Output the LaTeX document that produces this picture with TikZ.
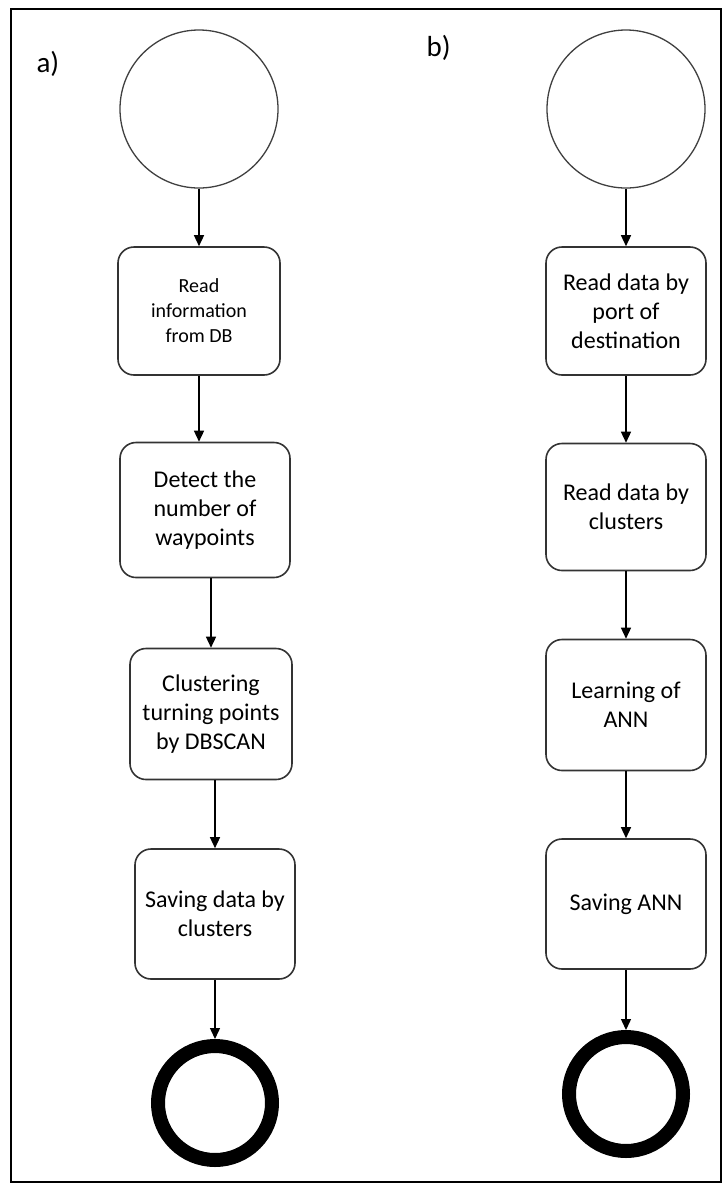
\documentclass[tikz,border=0pt]{standalone}
\usepackage{fontspec}
\setmainfont{Carlito}
\usetikzlibrary{arrows.meta}
\begin{document}
\begin{tikzpicture}[x=1pt,y=-1pt,
  stepbox/.style={draw=black!80, line width=1.6pt, rounded corners=16pt,
    align=center, inner sep=0pt, font=\fontsize{24}{29}\selectfont},
  smalltext/.style={font=\fontsize{20}{25}\selectfont},
  startnode/.style={circle, draw=black!75, line width=1.3pt, minimum size=158pt, inner sep=0pt},
  endnode/.style={circle, draw=black, line width=14pt, minimum size=114pt, inner sep=0pt},
  flow/.style={-{Triangle[width=10pt,length=11pt]}, line width=1.4pt},
  panel/.style={anchor=base west, font=\fontsize{29}{34}\selectfont}
  ]
\useasboundingbox (0,0) rectangle (723,1187);
% outer frame
\draw[line width=2.2pt] (11,9) rectangle (721,1182);

% panel labels
\node[panel] (la) at (33,72) {a)};
\node[panel] (lb) at (423,56) {b)};

% ---- column a) ----
\node[startnode] (s1) at (199,109) {};
\node[stepbox, smalltext, minimum width=162pt, minimum height=128pt] (a1) at (199,311)
  {Read\\information\\from DB};
\node[stepbox, minimum width=170pt, minimum height=135pt] (a2) at (205,510)
  {Detect the\\number of\\waypoints};
\node[stepbox, minimum width=162pt, minimum height=131pt] (a3) at (211,714)
  {Clustering\\turning points\\by DBSCAN};
\node[stepbox, minimum width=160pt, minimum height=130pt] (a4) at (215,914)
  {Saving data by\\clusters};
\node[endnode] (e1) at (215,1103) {};

\draw[flow] (s1.south) -- (a1.north);
\draw[flow] (a1.south) -- (a1.south |- a2.north);
\draw[flow] (a3.north |- a2.south) -- (a3.north);
\draw[flow] (a4.north |- a3.south) -- (a4.north);
\draw[flow] (a4.south) -- (e1.north);

% ---- column b) ----
\node[startnode] (s2) at (626,109) {};
\node[stepbox, minimum width=160pt, minimum height=128pt] (b1) at (626,311)
  {Read data by\\port of\\destination};
\node[stepbox, minimum width=160pt, minimum height=127pt] (b2) at (626,507)
  {Read data by\\clusters};
\node[stepbox, minimum width=160pt, minimum height=131pt] (b3) at (626,705)
  {Learning of\\ANN};
\node[stepbox, minimum width=160pt, minimum height=130pt] (b4) at (626,904)
  {Saving ANN};
\node[endnode] (e2) at (626,1094) {};

\draw[flow] (s2.south) -- (b1.north);
\draw[flow] (b1.south) -- (b2.north);
\draw[flow] (b2.south) -- (b3.north);
\draw[flow] (b3.south) -- (b4.north);
\draw[flow] (b4.south) -- (e2.north);
\end{tikzpicture}
\end{document}
